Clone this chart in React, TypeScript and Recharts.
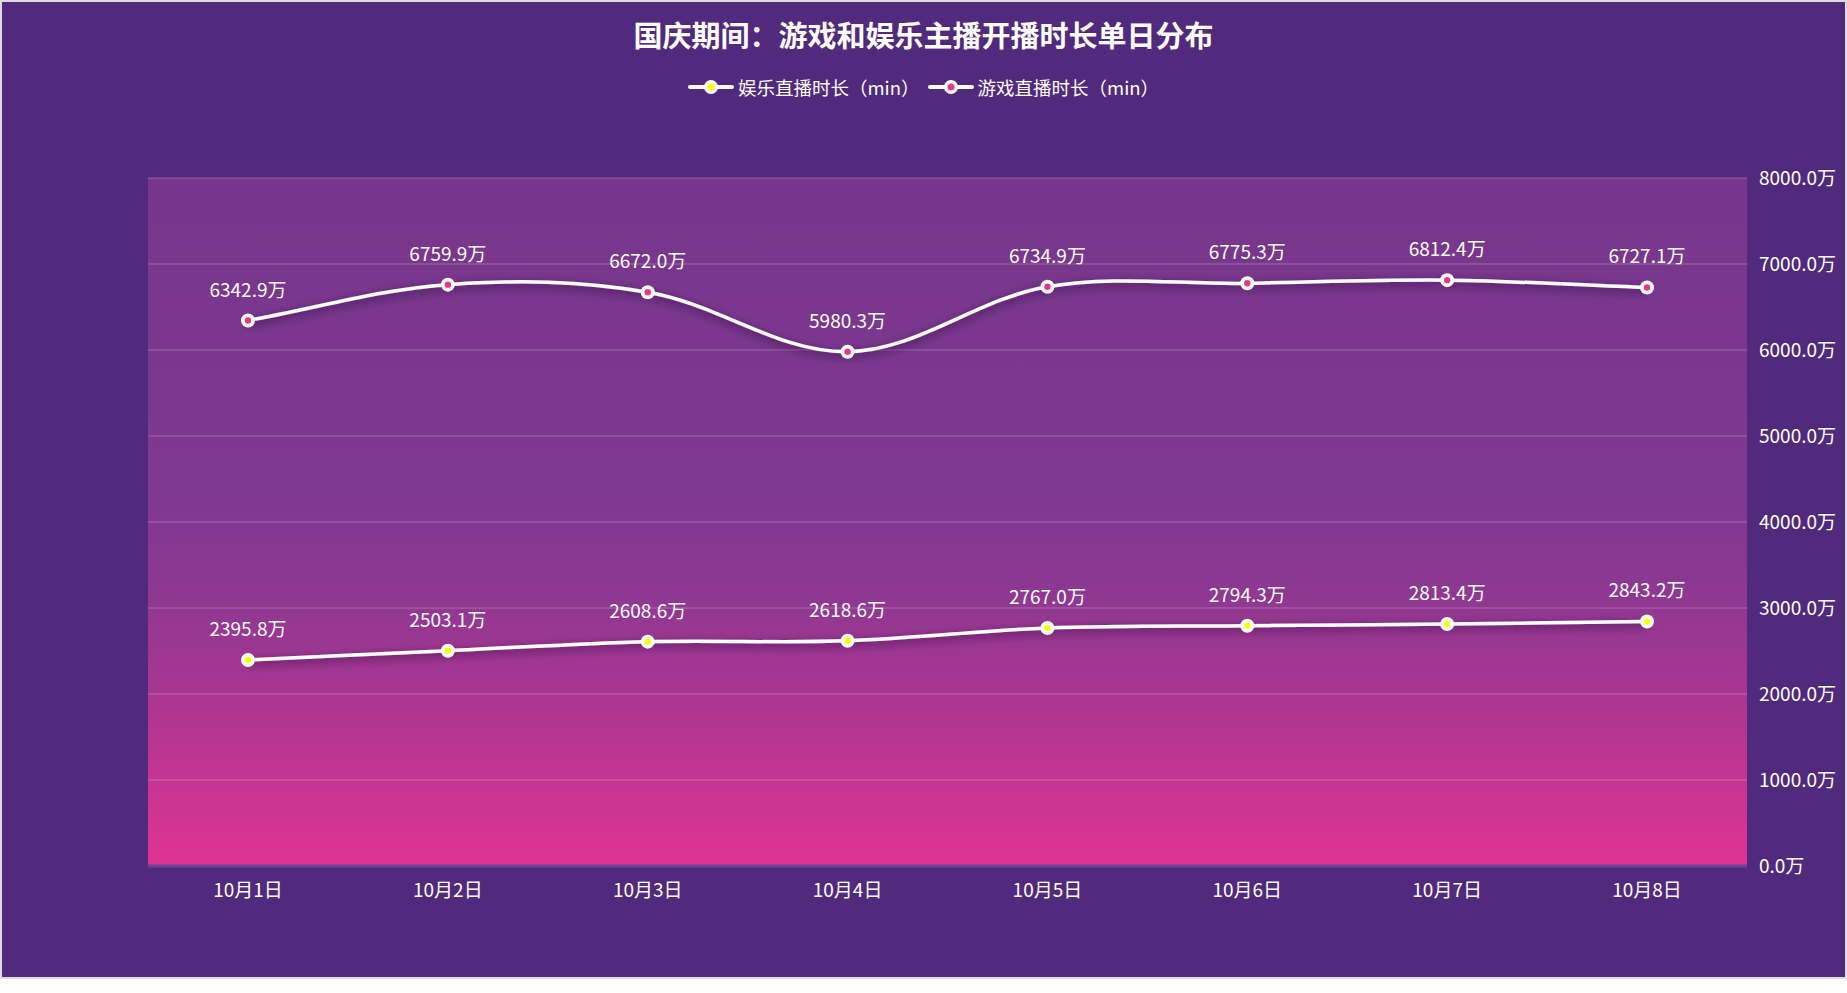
import { LineChart, Line, XAxis, YAxis, CartesianGrid, LabelList } from 'recharts';

const days = ['10月1日', '10月2日', '10月3日', '10月4日', '10月5日', '10月6日', '10月7日', '10月8日'];
const yuleMinutes = [2395.8, 2503.1, 2608.6, 2618.6, 2767.0, 2794.3, 2813.4, 2843.2];
const youxiMinutes = [6342.9, 6759.9, 6672.0, 5980.3, 6734.9, 6775.3, 6812.4, 6727.1];
const yTicks = [0, 1000, 2000, 3000, 4000, 5000, 6000, 7000, 8000];

const FONT = '"Noto Sans CJK SC", "Microsoft YaHei", sans-serif';

const chartData = days.map((day, i) => ({
  day,
  yule: yuleMinutes[i],
  youxi: youxiMinutes[i],
}));

const fmt = (v: number) => `${Number(v).toFixed(1)}万`;

// echarts-like smooth bezier
const SMOOTH = 0.35;
const smoothCurve = (context: any) => {
  let pts: number[][] = [];
  return {
    areaStart() {},
    areaEnd() {},
    lineStart() { pts = []; },
    point(x: number, y: number) { pts.push([+x, +y]); },
    lineEnd() {
      const n = pts.length;
      if (!n) return;
      context.moveTo(pts[0][0], pts[0][1]);
      const cps = pts.map((p, i) => {
        const prev = pts[Math.max(0, i - 1)];
        const next = pts[Math.min(n - 1, i + 1)];
        const vx = (next[0] - prev[0]) * SMOOTH;
        const vy = (next[1] - prev[1]) * SMOOTH;
        let d0 = Math.hypot(p[0] - prev[0], p[1] - prev[1]);
        let d1 = Math.hypot(next[0] - p[0], next[1] - p[1]);
        const s = d0 + d1;
        if (s) { d0 /= s; d1 /= s; }
        return [[p[0] - vx * d0, p[1] - vy * d0], [p[0] + vx * d1, p[1] + vy * d1]];
      });
      for (let i = 1; i < n; i++) {
        context.bezierCurveTo(cps[i - 1][1][0], cps[i - 1][1][1], cps[i][0][0], cps[i][0][1], pts[i][0], pts[i][1]);
      }
    },
  };
};

const makeDot = (color: string) => (props: any) => {
  const { cx, cy, index } = props;
  if (cx == null || cy == null) return <g key={index} />;
  return (
    <g key={`dot-${color}-${index}`}>
      <circle cx={cx} cy={cy} r={7} fill="#ffffff" />
      <circle cx={cx} cy={cy} r={3.2} fill={color} />
    </g>
  );
};

const LegendIcon = ({ color }: { color: string }) => (
  <svg width={46} height={16} style={{ display: 'block' }}>
    <line x1={2} y1={8} x2={44} y2={8} stroke="#fff" strokeWidth={4} strokeLinecap="round" />
    <circle cx={23} cy={8} r={7} fill="#fff" />
    <circle cx={23} cy={8} r={3.5} fill={color} />
  </svg>
);

const legendItems = [
  { name: '娱乐直播时长（min）', color: '#ffff00' },
  { name: '游戏直播时长（min）', color: '#e8368f' },
];

export default function App() {
  return (
    <div style={{ position: 'absolute', left: 0, top: 0, width: 1847, height: 993, background: '#ffffff' }}>
      <div
        style={{
          position: 'relative',
          width: 1843,
          height: 975,
          border: '2px solid #dcdcdc',
          background: '#522a7d',
          fontFamily: FONT,
        }}
      >
        <div
          style={{
            position: 'absolute', left: 0, top: 14, width: '100%', textAlign: 'center',
            color: '#fff', fontSize: 29, fontWeight: 'bold', lineHeight: '36px',
          }}
        >
          国庆期间：游戏和娱乐主播开播时长单日分布
        </div>
        <div
          style={{
            position: 'absolute', left: 0, top: 71, width: '100%', display: 'flex',
            justifyContent: 'center', alignItems: 'center', gap: 8,
          }}
        >
          {legendItems.map((item) => (
            <div key={item.name} style={{ display: 'flex', alignItems: 'center', gap: 4 }}>
              <LegendIcon color={item.color} />
              <span style={{ color: '#fff', fontSize: 18.5, lineHeight: '28px' }}>{item.name}</span>
            </div>
          ))}
        </div>
        <LineChart
          width={1843}
          height={975}
          data={chartData}
          margin={{ top: 176, right: 0, left: 146, bottom: 81 }}
        >
          <defs>
            <linearGradient id="plotBg" x1="0" y1="0" x2="0" y2="1">
              <stop offset="0%" stopColor="#77368b" />
              <stop offset="45%" stopColor="#7e3890" />
              <stop offset="60%" stopColor="#8d3892" />
              <stop offset="75%" stopColor="#a93691" />
              <stop offset="90%" stopColor="#c93592" />
              <stop offset="100%" stopColor="#e03394" />
            </linearGradient>
            <filter id="lineShadow" x="-5%" y="-50%" width="110%" height="200%">
              <feDropShadow dx="0" dy="3" stdDeviation="4" floodColor="#230838" floodOpacity="0.75" />
            </filter>
          </defs>
          <CartesianGrid
            vertical={false}
            fill="url(#plotBg)"
            fillOpacity={1}
            stroke="rgba(255,255,255,0.13)"
            strokeWidth={2}
          />
          <XAxis
            dataKey="day"
            height={30}
            padding={{ left: 100, right: 100 }}
            axisLine={{ stroke: '#6a4596', strokeWidth: 3 }}
            tickLine={false}
            tickSize={0}
            tickMargin={18}
            tick={{ fill: '#ffffff', fontSize: 19, fontFamily: FONT }}
            interval={0}
          />
          <YAxis
            orientation="right"
            width={98}
            domain={[0, 8000]}
            ticks={yTicks}
            tickFormatter={fmt}
            axisLine={false}
            tickLine={false}
            tickSize={0}
            tickMargin={12}
            tick={{ fill: '#ffffff', fontSize: 19, fontFamily: FONT, textAnchor: 'start' }}
          />
          <Line
            dataKey="yule"
            type={smoothCurve as any}
            stroke="#ffffff"
            strokeWidth={3.5}
            filter="url(#lineShadow)"
            dot={makeDot('#ffff00')}
            activeDot={false}
            isAnimationActive={false}
          >
            <LabelList dataKey="yule" position="top" offset={24} formatter={fmt as any} fill="#ffffff" fontSize={19} fontFamily={FONT} />
          </Line>
          <Line
            dataKey="youxi"
            type={smoothCurve as any}
            stroke="#ffffff"
            strokeWidth={3.5}
            filter="url(#lineShadow)"
            dot={makeDot('#e8368f')}
            activeDot={false}
            isAnimationActive={false}
          >
            <LabelList dataKey="youxi" position="top" offset={24} formatter={fmt as any} fill="#ffffff" fontSize={19} fontFamily={FONT} />
          </Line>
        </LineChart>
      </div>
    </div>
  );
}
